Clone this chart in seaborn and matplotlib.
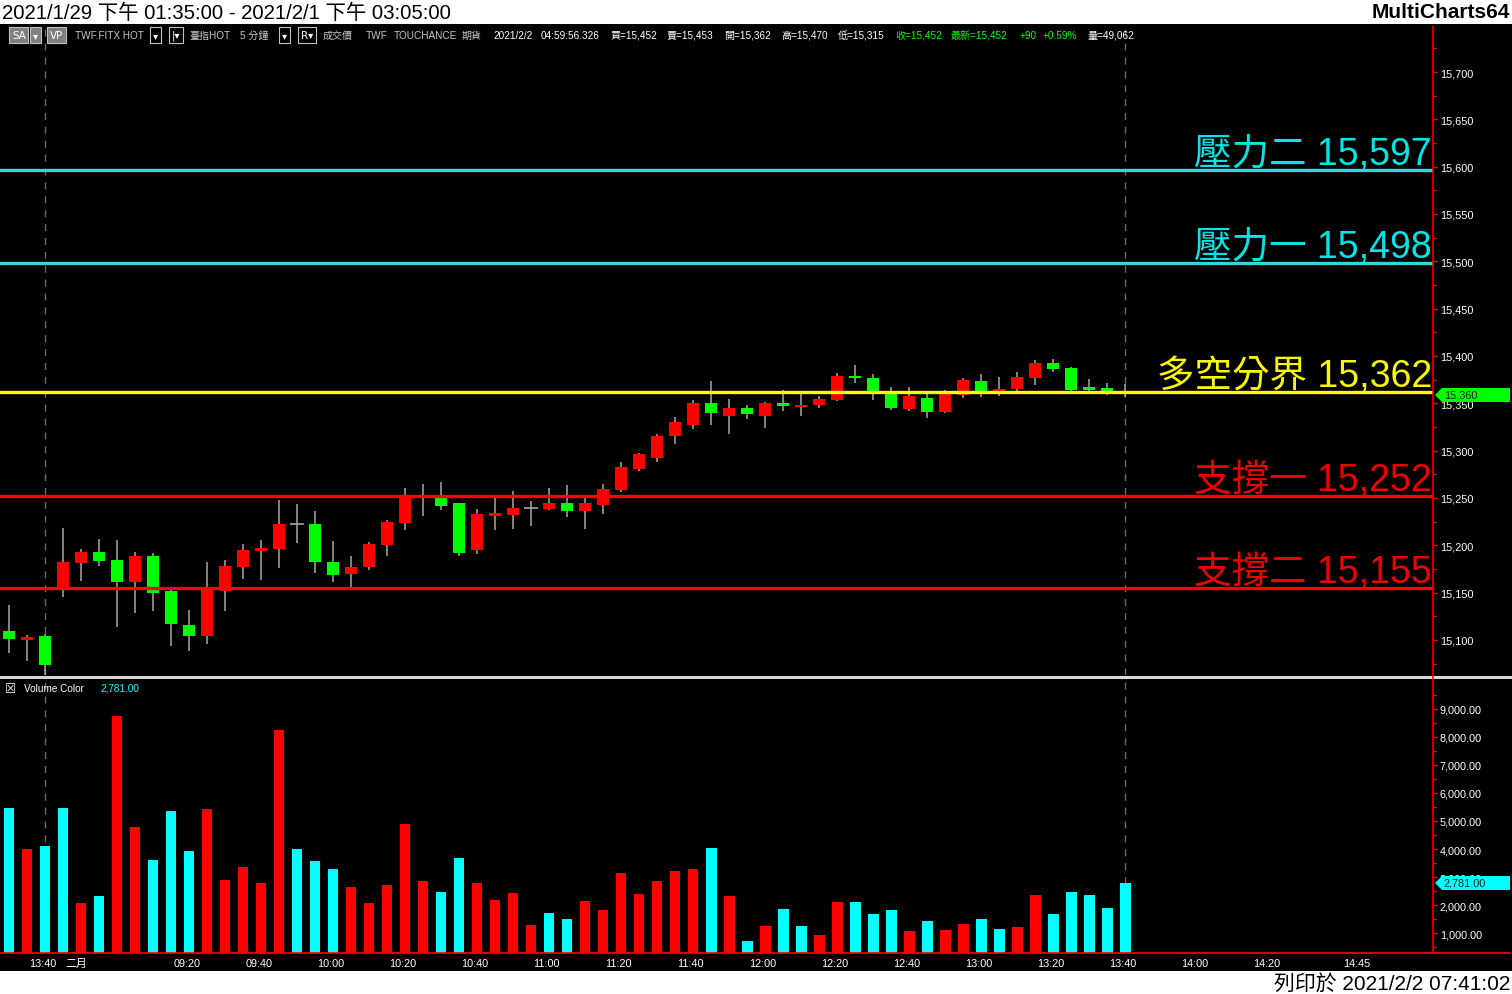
import matplotlib
matplotlib.use("Agg")
import matplotlib.pyplot as plt
import matplotlib.transforms as mtransforms
from matplotlib.patches import Polygon, Rectangle
from matplotlib.lines import Line2D
import seaborn as sns
import numpy as np
import pandas as pd

# TAIFEX front month, 5 minute bars, 2021/1/29 13:35 -> 2021/2/1 13:45
opens = [15110, 15100, 15104, 15155, 15181, 15193, 15184, 15161, 15189, 15152,
         15116, 15104, 15152, 15177, 15194, 15196, 15222, 15223, 15182, 15170,
         15177, 15200, 15224, 15252, 15250, 15245, 15195, 15231, 15232, 15239,
         15238, 15245, 15236, 15243, 15258, 15281, 15292, 15316, 15327, 15350,
         15337, 15345, 15337, 15350, 15346, 15348, 15354, 15379, 15377, 15360,
         15344, 15356, 15341, 15359, 15374, 15363, 15365, 15377, 15393, 15387,
         15367, 15366, 15363]
highs = [15137, 15105, 15106, 15218, 15196, 15207, 15206, 15193, 15192, 15153,
         15132, 15182, 15185, 15201, 15206, 15248, 15244, 15236, 15205, 15189,
         15204, 15227, 15261, 15265, 15267, 15245, 15238, 15250, 15257, 15247,
         15261, 15264, 15250, 15265, 15288, 15298, 15318, 15336, 15354, 15374,
         15355, 15348, 15351, 15364, 15360, 15358, 15382, 15390, 15381, 15367,
         15367, 15362, 15364, 15377, 15381, 15378, 15383, 15396, 15397, 15388,
         15376, 15371, 15370]
lows = [15086, 15078, 15058, 15145, 15162, 15178, 15114, 15128, 15131, 15094,
        15088, 15096, 15131, 15164, 15163, 15176, 15202, 15171, 15161, 15156,
        15174, 15189, 15216, 15231, 15237, 15189, 15191, 15216, 15217, 15220,
        15237, 15230, 15217, 15233, 15256, 15278, 15288, 15307, 15323, 15327,
        15318, 15333, 15324, 15342, 15337, 15345, 15352, 15371, 15354, 15343,
        15342, 15335, 15340, 15356, 15357, 15358, 15362, 15369, 15383, 15363,
        15362, 15359, 15357]
closes = [15101, 15103, 15074, 15182, 15193, 15183, 15161, 15189, 15150, 15117,
          15104, 15155, 15178, 15195, 15197, 15223, 15222, 15182, 15169, 15177,
          15201, 15225, 15251, 15252, 15242, 15192, 15233, 15234, 15239, 15239,
          15245, 15236, 15245, 15260, 15283, 15296, 15316, 15330, 15350, 15340,
          15345, 15339, 15350, 15347, 15348, 15355, 15379, 15377, 15363, 15345,
          15358, 15341, 15360, 15375, 15363, 15365, 15378, 15393, 15386, 15364,
          15364, 15363, 15360]
volumes = [5464, 4000, 4107, 5464, 2071, 2321, 8750, 4786, 3607, 5357,
           3929, 5429, 2893, 3357, 2786, 8250, 4000, 3571, 3286, 2643,
           2071, 2714, 4893, 2857, 2464, 3679, 2786, 2179, 2429, 1286,
           1714, 1500, 2143, 1821, 3143, 2393, 2857, 3214, 3286, 4036,
           2321, 714, 1250, 1857, 1250, 929, 2107, 2107, 1679, 1821,
           1071, 1429, 1107, 1321, 1500, 1143, 1214, 2357, 1679, 2464,
           2357, 1893, 2781]
# volume colour per bar: c = cyan, r = red
vol_side = list("crccrcrrcccrrrrrcccrrr" "rrccrrrrccrrrrrrrcrcrc" "crrcccrcrrccrrccccc")

tick_pos = [1, 3, 5, 9, 13, 17, 21, 25, 29, 33, 37, 41, 45, 49, 53, 57, 61, 65, 69, 74]
tick_lab = ["13:40", "二月", "", "09:20", "09:40", "10:00", "10:20", "10:40", "11:00",
            "11:20", "11:40", "12:00", "12:20", "12:40", "13:00", "13:20", "13:40",
            "14:00", "14:20", "14:45"]

levels = [15597, 15498, 15362, 15252, 15155]
level_names = ["壓力二", "壓力一", "多空分界", "支撐一", "支撐二"]
level_line = ["#30D8D8", "#30D8D8", "#FFFF00", "#FF0000", "#FF0000"]
level_text = ["#00E5E5", "#00E5E5", "#F8F800", "#F00000", "#F00000"]

sns.set_theme(style="dark")
plt.rcParams['font.family'] = ['Liberation Sans', 'Noto Sans CJK TC', 'DejaVu Sans']

W, H = 1512, 995


def fx(px):
    return px / W


def fy(py):
    return 1 - py / H


fig = plt.figure(figsize=(15.12, 9.95), dpi=100, facecolor='white')
fig.add_artist(Rectangle((0, fy(972)), 1, (972 - 25) / H, transform=fig.transFigure,
                         facecolor='black', edgecolor='none', zorder=-10))

ax = fig.add_axes([0, fy(676), fx(1433), (676 - 27) / H])
axv = fig.add_axes([0, fy(954), fx(1433), (954 - 680) / H])
for a in (ax, axv):
    a.set_facecolor('black')
    for s in a.spines.values():
        s.set_visible(False)
    a.grid(False)

# candles
idx = np.arange(len(opens))
o = np.array(opens, float)
h = np.array(highs, float)
l = np.array(lows, float)
c = np.array(closes, float)
doji = c == o
col = np.where(c > o, '#FF0000', '#00FF00')
ax.vlines(idx, l, h, color='#A8A8A8', lw=1.1, zorder=2)
body = np.maximum(np.abs(c - o), 1.6)
ax.bar(idx[~doji], body[~doji], bottom=np.minimum(o, c)[~doji], width=0.72,
       color=col[~doji], linewidth=0, zorder=3)
ax.hlines(c[doji], idx[doji] - 0.4, idx[doji] + 0.4, color='#A8A8A8', lw=1.2, zorder=3)

for a in (ax, axv):
    for xv in (2, 62):
        a.axvline(xv, color='#6A6A6A', lw=1, ls=(0, (5, 5)), zorder=1)

trans = mtransforms.blended_transform_factory(ax.transAxes, ax.transData)
for lv, nm, lc, tc in zip(levels, level_names, level_line, level_text):
    ax.axhline(lv, color=lc, lw=2.4, zorder=4)
    ax.text(0.9993, lv + 6.3, f"{nm} {lv:,}", transform=trans, ha='right',
            va='baseline', fontsize=27, color=tc, zorder=5)

ax.set_xlim(-0.5, 79.11)
ax.set_ylim(15063.0, 15748.6)
ax.set_xticks([])
ax.yaxis.tick_right()
ax.set_yticks(np.arange(15100, 15701, 50))
ax.set_yticks(np.arange(15075, 15740, 50), minor=True)
ax.set_yticklabels([f"{v:,}" for v in range(15100, 15701, 50)])
ax.tick_params(axis='y', which='major', colors='#FF0000', labelcolor='white',
               length=3, width=1, pad=2, labelsize=7.8, direction='out')
ax.tick_params(axis='y', which='minor', colors='#FF0000', length=1.8, width=1)

# volume
vol_df = pd.DataFrame({'idx': idx, 'vol': volumes, 'side': vol_side})
sns.barplot(data=vol_df, x='idx', y='vol', hue='side', orient='x',
            palette={'c': '#00FFFF', 'r': '#FF0000'}, native_scale=True,
            dodge=False, width=0.61, saturation=1, linewidth=0,
            errorbar=None, legend=False, ax=axv)
axv.set_xlabel('')
axv.set_ylabel('')
axv.set_xlim(-0.5, 79.11)
axv.set_ylim(286, 10071)
axv.yaxis.tick_right()
axv.set_yticks(np.arange(1000, 9001, 1000))
axv.set_yticks(np.arange(500, 10001, 1000), minor=True)
axv.set_yticklabels([f"{v:,.2f}" for v in range(1000, 9001, 1000)])
axv.tick_params(axis='y', which='major', colors='#FF0000', labelcolor='white',
                length=3, width=1, pad=2, labelsize=7.8, direction='out')
axv.tick_params(axis='y', which='minor', colors='#FF0000', length=1.8, width=1)
axv.set_xticks(tick_pos)
axv.set_xticklabels([''] * len(tick_pos))
axv.tick_params(axis='x', colors='#FF0000', length=3, width=1, direction='out')
vtrans = mtransforms.blended_transform_factory(axv.transData, axv.transAxes)
for tp, tl in zip(tick_pos, tick_lab):
    axv.text(tp + 0.14, -0.037, tl, transform=vtrans, ha='left', va='center',
             fontsize=7.8, color='white')

# frame lines
fig.add_artist(Line2D([0, 1], [fy(678), fy(678)], transform=fig.transFigure,
                      color='#D8D8D8', lw=2.2))
fig.add_artist(Line2D([0, fx(1510)], [fy(954), fy(954)], transform=fig.transFigure,
                      color='#FF0000', lw=1.2))
fig.add_artist(Line2D([fx(1433), fx(1433)], [fy(27), fy(954)], transform=fig.transFigure,
                      color='#FF0000', lw=1.1))

# last value flags
for yc, fc, txt in ((396, '#00FF00', "15,360"), (884, '#00FFFF', "2,781.00")):
    pts = [(fx(1435), fy(yc)), (fx(1442), fy(yc - 7)), (fx(1510), fy(yc - 7)),
           (fx(1510), fy(yc + 7)), (fx(1442), fy(yc + 7))]
    fig.add_artist(Polygon(pts, closed=True, transform=fig.transFigure,
                           facecolor=fc, edgecolor='none', zorder=6))
    fig.text(fx(1444), fy(yc), txt, fontsize=7.8, color='#102010', va='center', zorder=7)

# title strip and footer
fig.text(fx(2), fy(13), "2021/1/29 下午 01:35:00 - 2021/2/1 下午 03:05:00",
         fontsize=14.7, va='center', color='black')
fig.text(fx(1510), fy(13), "MultiCharts64", fontsize=15, fontweight='bold',
         va='center', ha='right', color='black')
fig.text(fx(1510), fy(984), "列印於 2021/2/2 07:41:02", fontsize=15,
         va='center', ha='right', color='black')

# header line inside chart
gray = '#C8C8C8'
green = '#00FF00'
header = [(75, "TWF.FITX HOT", gray), (189, "臺指HOT", gray), (240, "5 分鐘", gray),
          (323, "成交價", gray), (366, "TWF", gray), (394, "TOUCHANCE", gray),
          (462, "期貨", gray), (493, "2021/2/2", 'white'), (541, "04:59:56.326", 'white'),
          (610, "買=15,452", 'white'), (667, "賣=15,453", 'white'),
          (724, "開=15,362", 'white'), (781, "高=15,470", 'white'),
          (838, "低=15,315", 'white'), (895, "收=15,452", green),
          (951, "最新=15,452", green), (1020, "+90", green), (1043, "+0.59%", green),
          (1088, "量=49,062", 'white')]
for xp, s, cl in header:
    fig.text(fx(xp), fy(36), s, fontsize=7.2, color=cl, va='center')
boxes = [(12, "SA", '#808080', 'white'), (33, "▾", '#808080', 'white'),
         (50, "VP", '#808080', 'white'), (153, "▾", 'black', 'white'),
         (172, "|▾", 'black', 'white'), (282, "▾", 'black', 'white'),
         (301, "R▾", 'black', 'white')]
for xp, s, bc, tc in boxes:
    fig.text(fx(xp), fy(36), s, fontsize=7.4, color=tc, va='center',
             family=['DejaVu Sans'],
             bbox=dict(boxstyle='square,pad=0.25', facecolor=bc, edgecolor='#C0C0C0', lw=0.8))

# volume legend
fig.text(fx(5), fy(689), "☒", fontsize=9, color='white', va='center', family=['DejaVu Sans'])
fig.text(fx(24), fy(689), "Volume Color", fontsize=7.2, color='white', va='center')
fig.text(fx(100), fy(689), "2,781.00", fontsize=7.2, color='#00FFFF', va='center')

fig.savefig("out.png", dpi=100, facecolor='white')
